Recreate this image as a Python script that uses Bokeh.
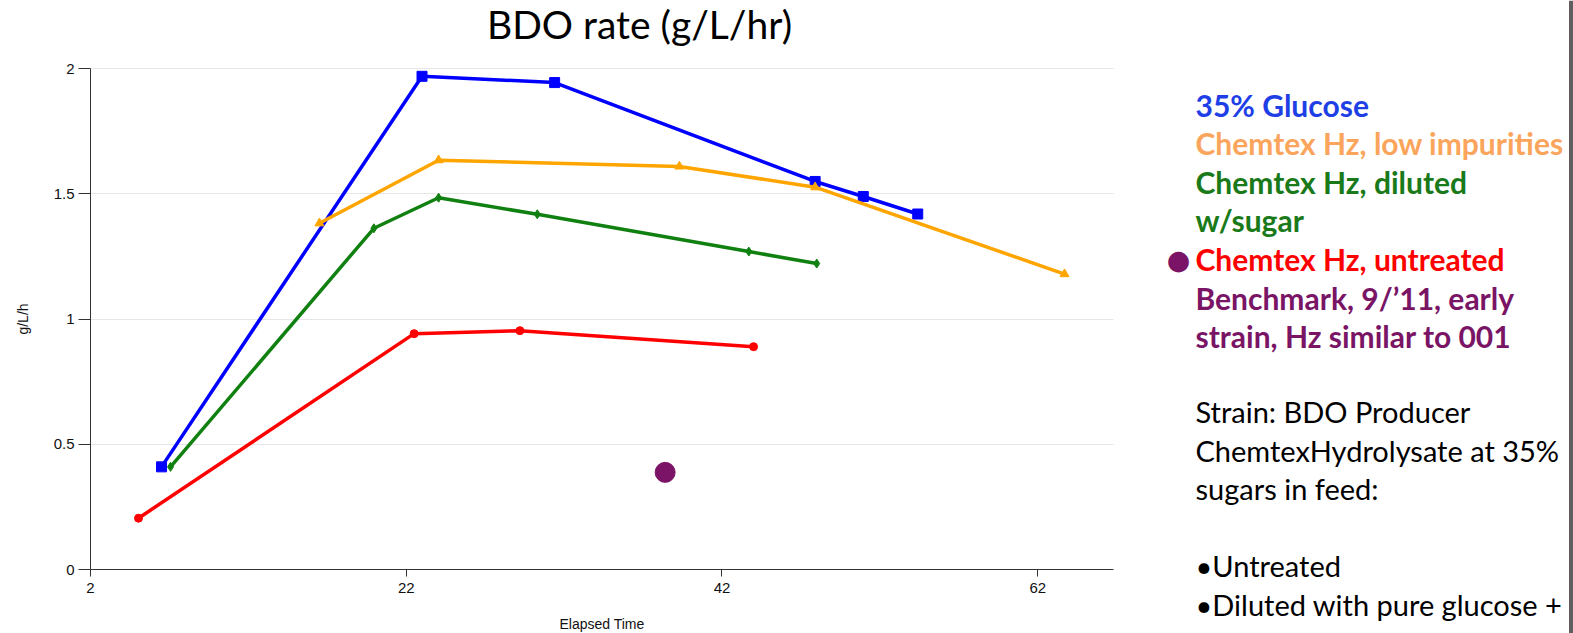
from bokeh.plotting import figure
from bokeh.models import Label, FixedTicker, Range1d, Span
from bokeh.embed import file_html
from bokeh.resources import INLINE

# ---- data ----
glucose_x = [6.5, 23.0, 31.4, 47.9, 50.95, 54.4]
glucose_y = [0.41, 1.97, 1.945, 1.55, 1.49, 1.42]
low_imp_x = [16.5, 24.05, 39.3, 47.9, 63.7]
low_imp_y = [1.383, 1.635, 1.61, 1.527, 1.18]
diluted_x = [7.07, 19.95, 24.05, 30.3, 43.7, 48.0]
diluted_y = [0.41, 1.363, 1.485, 1.419, 1.27, 1.222]
untreated_x = [5.04, 22.5, 29.2, 44.0]
untreated_y = [0.205, 0.942, 0.954, 0.89]
benchmark_x = [38.4]
benchmark_y = [0.388]

x_ticks = [2, 22, 42, 62]
y_ticks = [0, 0.5, 1, 1.5, 2]
y_tick_labels = ["0", "0.5", "1", "1.5", "2"]
x_span = (2, 66.8)
y_span = (0, 2)

legend_lines = ["35% Glucose", "Chemtex Hz, low impurities", "Chemtex Hz, diluted",
                "w/sugar", "Chemtex Hz, untreated", "Benchmark, 9/\u201911, early",
                "strain, Hz similar to 001"]
legend_colors = ["#1f3fe6", "#fba55c", "#1a7a1a", "#1a7a1a", "#ff0000", "#7a1566", "#7a1566"]
note_lines = ["Strain: BDO Producer", "ChemtexHydrolysate at 35%", "sugars in feed:", "",
              "\u2022Untreated", "\u2022Diluted with pure glucose +"]

# ---- page geometry (pixels) ----
W, H = 1573, 633
PX_LEFT, PX_RIGHT = 90.0, 1113.0     # pixel x of x=2 and of the axis end
PX_BOTTOM, PX_TOP = 569.0, 68.3      # pixel y of y=0 and y=2
ppx = (PX_RIGHT - PX_LEFT) / (x_span[1] - x_span[0])
ppy = (PX_BOTTOM - PX_TOP) / (y_span[1] - y_span[0])
x0 = x_span[0] - PX_LEFT / ppx
x1 = x0 + W / ppx
y0 = y_span[0] - (H - PX_BOTTOM) / ppy
y1 = y0 + H / ppy

p = figure(width=W, height=H, output_backend="svg", toolbar_location=None,
           x_range=Range1d(x0, x1), y_range=Range1d(y0, y1),
           min_border_left=0, min_border_right=0, min_border_top=0, min_border_bottom=0)
p.outline_line_color = None
p.xgrid.grid_line_color = None

yg = p.ygrid[0]
yg.ticker = FixedTicker(ticks=y_ticks)
yg.grid_line_color = "#e6e6e6"
yg.grid_line_width = 1
yg.bounds = y_span
if "cross_bounds" in yg.properties():
    yg.cross_bounds = x_span
else:
    yg.grid_line_color = None
    p.segment(x0=[x_span[0]] * len(y_ticks), x1=[x_span[1]] * len(y_ticks),
              y0=y_ticks, y1=y_ticks, line_color="#e6e6e6", line_width=1)

xa, ya = p.xaxis[0], p.yaxis[0]
xa.fixed_location = y_span[0]
ya.fixed_location = x_span[0]
xa.bounds = x_span
ya.bounds = y_span
xa.ticker = FixedTicker(ticks=x_ticks)
ya.ticker = FixedTicker(ticks=y_ticks)
ya.major_label_overrides = {t: l for t, l in zip(y_ticks, y_tick_labels)}
for ax in (xa, ya):
    ax.axis_line_color = "#333333"
    ax.major_tick_line_color = "#333333"
    ax.minor_tick_line_color = None
    ax.major_tick_in = 0
    ax.major_label_text_font = "Liberation Sans"
    ax.major_label_text_font_size = "15px"
    ax.major_label_text_color = "#111111"
    ax.axis_label_text_font = "Liberation Sans"
    ax.axis_label_text_font_size = "14px"
    ax.axis_label_text_font_style = "normal"
    ax.axis_label_text_color = "#111111"
xa.major_tick_out = 7
ya.major_tick_out = 12
xa.major_label_standoff = 6
ya.major_label_standoff = 4
xa.axis_label = "Elapsed Time"
ya.axis_label = "g/L/h"
xa.axis_label_standoff = 20
ya.axis_label_standoff = 20

LW = 3.5
p.line(glucose_x, glucose_y, line_width=LW, color="#0000ff")
p.scatter(glucose_x, glucose_y, marker="square", size=10, color="#0000ff")
p.line(low_imp_x, low_imp_y, line_width=LW, color="#ffa500")
p.scatter(low_imp_x, low_imp_y, marker="triangle", size=9, color="#ffa500")
p.line(diluted_x, diluted_y, line_width=LW, color="#108010")
p.scatter(diluted_x, diluted_y, marker="diamond", size=9, color="#108010")
p.line(untreated_x, untreated_y, line_width=LW, color="#ff0000")
p.scatter(untreated_x, untreated_y, marker="circle", size=8, color="#ff0000")
p.scatter(benchmark_x, benchmark_y, marker="circle", size=20, color="#7b1466")


def lab(px, py, text, **kw):
    # screen units are measured from the frame's bottom-left (frame == canvas here)
    p.add_layout(Label(x=px, y=H - py, x_units="screen", y_units="screen", text=text,
                       text_baseline="middle", **kw))


lab(639, 23, "BDO rate (g/L/hr)", text_align="center", text_font="Lato",
    text_font_size="39px", text_color="#000000")

TX = 1195
for i, (t, c) in enumerate(zip(legend_lines, legend_colors)):
    lab(TX, 104 + i * 38.6, t, text_align="left", text_font="Lato",
        text_font_style="bold", text_font_size="30px", text_color=c)

lab(1178, 259, "\u25cf", text_align="center", text_font="DejaVu Sans",
    text_font_size="27px", text_color="#7b1466")

for i, t in enumerate(note_lines):
    if t:
        lab(TX, 411 + i * 38.6, t, text_align="left", text_font="Lato",
            text_font_size="29px", text_color="#000000")

p.add_layout(Span(location=W - 2.5, location_units="screen", dimension="height",
                  line_color="#5f5f5f", line_width=4))

open("out.html", "w").write(file_html(p, INLINE))
